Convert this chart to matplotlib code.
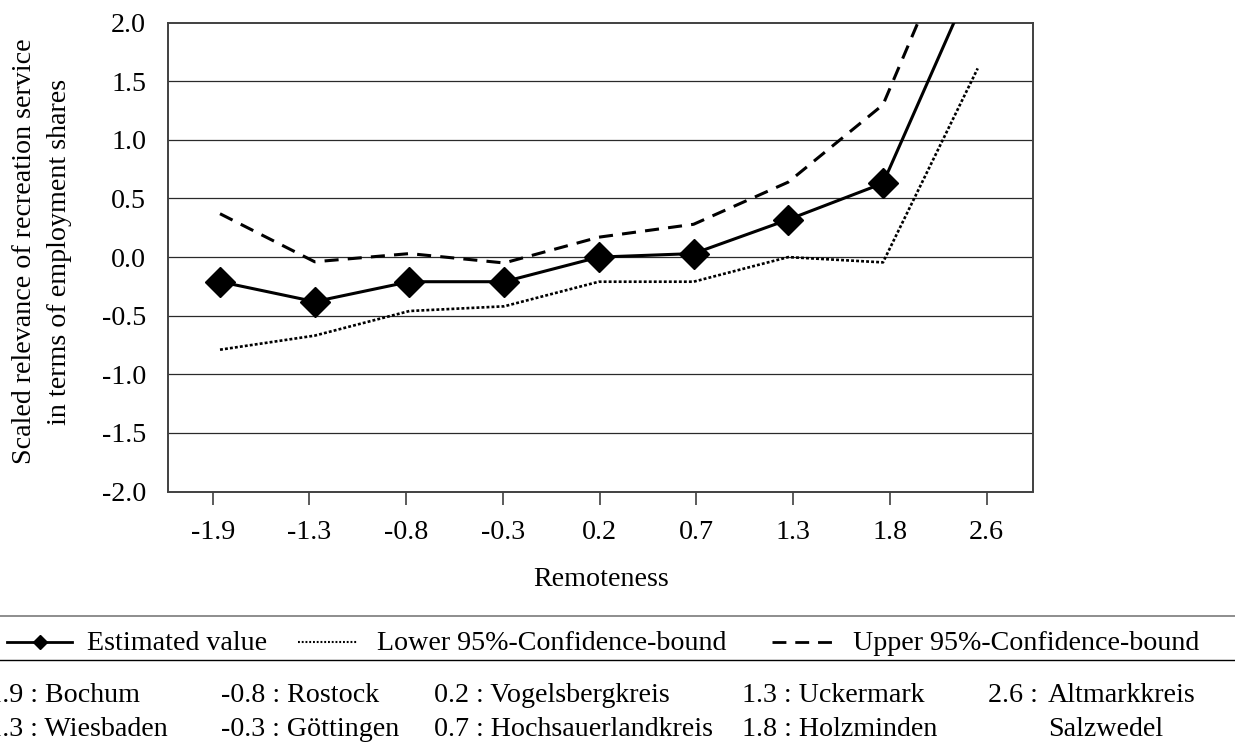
import matplotlib
matplotlib.use("Agg")
import matplotlib.pyplot as plt
from matplotlib.lines import Line2D

plt.rcParams.update({
    "font.family": ["Liberation Serif", "DejaVu Serif"],
    "font.size": 20.2,
})

# remoteness categories and estimates
remoteness = ["-1.9", "-1.3", "-0.8", "-0.3", "0.2", "0.7", "1.3", "1.8", "2.6"]
estimated = [-0.21, -0.38, -0.21, -0.21, 0.0, 0.03, 0.32, 0.63, 2.46]
lower_ci = [-0.79, -0.67, -0.46, -0.42, -0.21, -0.21, 0.0, -0.045, 1.61]
upper_ci = [0.37, -0.04, 0.03, -0.05, 0.17, 0.28, 0.64, 1.30, 3.2]
y_ticks = [-2.0, -1.5, -1.0, -0.5, 0.0, 0.5, 1.0, 1.5, 2.0]

# district names behind the remoteness values
row1 = ["-1.9 : Bochum", "-0.8 : Rostock", "0.2 : Vogelsbergkreis", "1.3 : Uckermark"]
row2 = ["-1.3 : Wiesbaden", "-0.3 : Göttingen", "0.7 : Hochsauerlandkreis", "1.8 : Holzminden"]
last_key = "2.6 :"
last_name = ["Altmarkkreis", "Salzwedel"]

W, H = 1235, 742
fig = plt.figure(figsize=(W / 100, H / 100), dpi=100)
ax = fig.add_axes([168.3 / W, 1 - 491.5 / H, (1033.3 - 168.3) / W, (491.5 - 22.7) / H])

idx = list(range(len(remoteness)))
ax.set_xlim(-0.459, 8.482)
ax.set_ylim(-2, 2)
ax.set_xticks(idx)
ax.set_xticklabels(remoteness)
ax.set_yticks(y_ticks)
ax.set_yticklabels([f"{v:.1f}" for v in y_ticks])
ax.tick_params(axis="x", length=9.5, width=1.2, color="#404040", pad=11)
ax.tick_params(axis="y", length=0, pad=16)
for s in ax.spines.values():
    s.set_color("#404040")
    s.set_linewidth(1.4)
for v in y_ticks[1:-1]:
    ax.axhline(v, color="#2a2a2a", lw=0.9, zorder=1)

ax.set_xlabel("Remoteness", va="center")
ax.xaxis.set_label_coords(0.5, -0.188)
ax.set_ylabel("Scaled relevance of recreation service\nin terms of employment shares",
              va="center", linespacing=1.55)
ax.yaxis.set_label_coords(-0.146, 0.512)

# the series sit on a slightly narrower category scale than the ticks
ax2 = ax.twiny()
ax2.set_xlim(-0.546, 8.587)
ax2.set_axis_off()
ax2.plot(idx, lower_ci, color="black", lw=1.9, linestyle=(0, (1.1, 0.8)))
ax2.plot(idx, upper_ci, color="black", lw=2.2, dashes=(4.6, 3))
ax2.plot(idx, estimated, color="black", lw=2.2, marker="D", markersize=15.3)


def fx(x):
    return x / W


def fy(y):
    return 1 - y / H


# legend box lines
fig.add_artist(Line2D([0, 1], [fy(616), fy(616)], color="#7a7a7a", lw=1.2))
fig.add_artist(Line2D([0, 1], [fy(660), fy(660)], color="black", lw=1.0))

ly = fy(641.7)
fig.add_artist(Line2D([fx(7), fx(72)], [ly, ly], color="black", lw=2.0))
fig.add_artist(Line2D([fx(40)], [ly], color="black", marker="D", markersize=7))
fig.add_artist(Line2D([fx(298), fx(358)], [ly, ly], color="black", lw=1.5, linestyle=(0, (0.9, 0.9))))
fig.add_artist(Line2D([fx(772), fx(833)], [ly, ly], color="black", lw=2.0, dashes=(5, 3.2)))
fig.text(fx(87), fy(650), "Estimated value", va="baseline")
fig.text(fx(377), fy(650), "Lower 95%-Confidence-bound", va="baseline")
fig.text(fx(853), fy(650), "Upper 95%-Confidence-bound", va="baseline")

col_x = [-21, 221, 434, 742]
for x, a, b in zip(col_x, row1, row2):
    fig.text(fx(x), fy(702), a, va="baseline")
    fig.text(fx(x), fy(736), b, va="baseline")
fig.text(fx(988), fy(702), last_key, va="baseline")
fig.text(fx(1048), fy(702), last_name[0], va="baseline")
fig.text(fx(1048), fy(736), last_name[1], va="baseline")

fig.savefig("out.png", dpi=100)
